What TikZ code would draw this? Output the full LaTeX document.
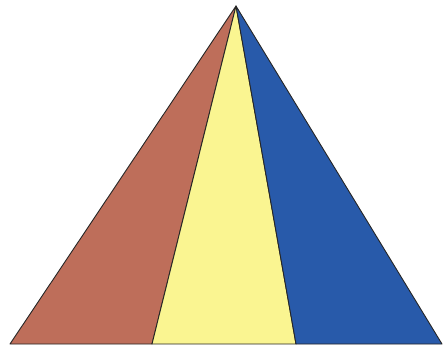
\documentclass[tikz,border=0pt]{standalone}
\usepackage{tikz}
\usepackage{xcolor}
\definecolor{brick}{RGB}{190, 110, 90}
\definecolor{sand}{RGB}{250, 245, 145}
\definecolor{cobalt}{RGB}{40, 90, 170}

\begin{document}
\begin{tikzpicture}[
    x=1pt, y=-1pt,
    part/.style={
        draw=black!85,
        line width=0.9pt,
        line join=round,
        fill=#1
    },
    part/.default=white
]
\useasboundingbox (0,0) rectangle (445,349);

% === corners ===
\coordinate (apex) at (236,6);
\coordinate (bl) at (10,344);
\coordinate (bm1) at (152,344);
\coordinate (bm2) at (296,344);
\coordinate (br) at (442,344);

% === three parts ===
\draw[part=brick] (apex) -- (bl) -- (bm1) -- cycle;
\draw[part=sand] (apex) -- (bm1) -- (bm2) -- cycle;
\draw[part=cobalt] (apex) -- (bm2) -- (br) -- cycle;

\end{tikzpicture}
\end{document}
